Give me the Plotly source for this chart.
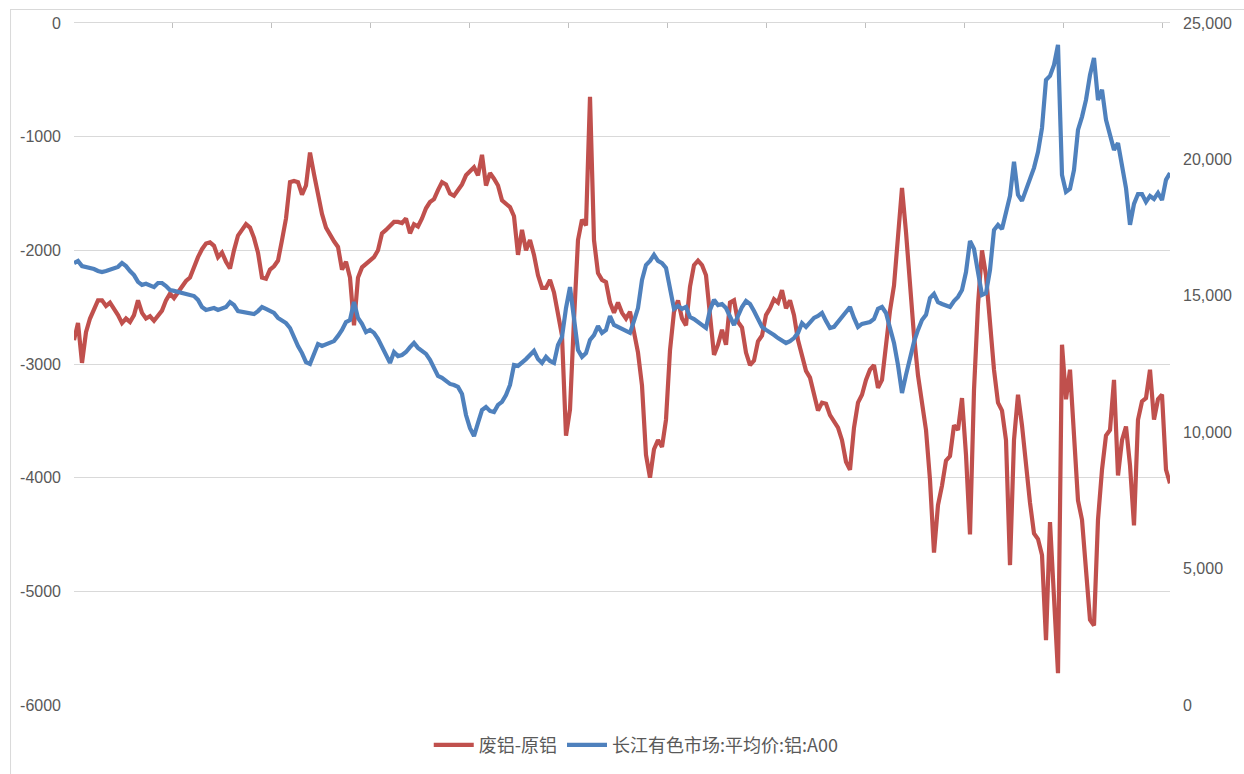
import plotly.graph_objects as go

scrap_minus_primary = [
    -2790, -2640, -2990, -2720, -2600, -2510, -2440, -2440, -2490, -2460,
    -2510, -2570, -2640, -2600, -2630, -2570, -2440, -2550, -2600, -2580,
    -2620, -2580, -2530, -2440, -2380, -2420, -2370, -2310, -2270, -2240,
    -2140, -2060, -1990, -1940, -1930, -1960, -2060, -2020, -2100, -2160,
    -2000, -1870, -1820, -1770, -1800, -1890, -2020, -2240, -2250, -2170,
    -2140, -2090, -1910, -1720, -1400, -1390, -1400, -1510, -1430, -1140,
    -1330, -1530, -1680, -1800, -1870, -1920, -1970, -2170, -2100, -2240,
    -2660, -2240, -2150, -2120, -2090, -2060, -2000, -1850, -1820, -1790,
    -1750, -1750, -1760, -1720, -1850, -1770, -1790, -1720, -1630, -1575,
    -1550, -1470, -1400, -1420, -1500, -1520, -1470, -1420, -1340, -1300,
    -1270, -1340, -1160, -1430, -1320, -1370, -1430, -1560, -1590, -1620,
    -1700, -2040, -1820, -2000, -1910, -2040, -2220, -2330, -2330, -2260,
    -2370, -2570, -2750, -3630, -3400, -2610, -1910, -1730, -1780, -650,
    -1910, -2200, -2260, -2280, -2460, -2550, -2460, -2550, -2600, -2540,
    -2730, -2900, -3190, -3800, -4000, -3750, -3670, -3730, -3490, -2880,
    -2540, -2440, -2600, -2660, -2320, -2130, -2090, -2130, -2220, -2610,
    -2920, -2830, -2700, -2830, -2460, -2440, -2630, -2680, -2900, -3010,
    -2970, -2800, -2750, -2570, -2510, -2430, -2460, -2350, -2510, -2440,
    -2570, -2790, -2940, -3060, -3120, -3250, -3410, -3340, -3350, -3450,
    -3500, -3560, -3670, -3860, -3930, -3560, -3340, -3270, -3140, -3050,
    -3010, -3210, -3140, -2830, -2530, -2310, -1910, -1450, -1840, -2310,
    -2750, -3100, -3320, -3580, -4020, -4660, -4240, -4070, -3850, -3810,
    -3540, -3580, -3300, -3800, -4500, -3230, -2480, -2000, -2220, -2660,
    -3050, -3340, -3410, -3670, -4770, -3670, -3270, -3540, -3930, -4220,
    -4490, -4540, -4680, -5430, -4390, -5080, -5720, -2830, -3310, -3050,
    -3580, -4200, -4370, -4770, -5250, -5300, -4370, -3930, -3630, -3580,
    -3140, -3980, -3670, -3550, -3890, -4420, -3490, -3330, -3300, -3050,
    -3490, -3310, -3270, -3930, -4050,
]

changjiang_a00 = [
    16200, 16280, 16090, 16060, 16020, 15980, 15910, 15870, 15910, 15950,
    16020, 16060, 16200, 16090, 15910, 15760, 15510, 15400, 15440, 15360,
    15320, 15470, 15470, 15360, 15210, 15180, 15140, 15100, 15070, 15030,
    14990, 14850, 14590, 14480, 14520, 14550, 14480, 14520, 14590, 14770,
    14660, 14440, 14410, 14370, 14330, 14330, 14440, 14590, 14520, 14440,
    14370, 14190, 14110, 14000, 13820, 13450, 13160, 12900, 12570, 12500,
    12830, 13230, 13160, 13230, 13310, 13340, 13530, 13750, 14040, 14110,
    14770, 14190, 13970, 13670, 13750, 13640, 13420, 13120, 12830, 12540,
    12940, 12790, 12830, 12940, 13120, 13270, 13090, 12980, 12870, 12650,
    12350, 12060, 11990, 11880, 11770, 11730, 11660, 11400, 10630, 10150,
    9860, 10340, 10810, 10920, 10780, 10740, 11000, 11110, 11360, 11730,
    12460, 12430, 12540, 12680, 12830, 12980, 12680, 12540, 12760, 12610,
    12540, 13200, 13490, 14550, 15320, 14040, 13010, 12760, 12900, 13380,
    13560, 13890, 13640, 13750, 14260, 13930, 13860, 13820, 13710, 13640,
    14080, 14550, 15580, 16130, 16280, 16500, 16280, 16200, 16020, 15320,
    14520, 14630, 14520, 14590, 14220, 14150, 14040, 13890, 13820, 14480,
    14850, 14660, 14700, 14550, 14220, 13930, 14260, 14590, 14810, 14700,
    14440, 14110, 13860, 13750, 13670, 13560, 13450, 13380, 13270, 13340,
    13450, 13640, 14000, 13860, 14040, 14190, 14260, 14370, 14080, 13820,
    13860, 14040, 14260, 14440, 14590, 14190, 13860, 13970, 14000, 14040,
    14150, 14520, 14590, 14370, 13820, 13270, 12460, 11440, 12100, 12790,
    13310, 13750, 14110, 14300, 14920, 15070, 14770, 14700, 14660, 14590,
    14810, 14960, 15210, 15870, 17010, 16720, 15870, 15030, 15100, 15950,
    17410, 17600, 17450, 18070, 18660, 19910, 18700, 18480, 18880, 19280,
    19690, 20270, 21150, 22910, 23060, 23460, 24200, 19430, 18810, 18920,
    19610, 21080, 21560, 22180, 23100, 23720, 22180, 22550, 21450, 20900,
    20350, 20600, 19870, 18950, 17600, 18370, 18730, 18730, 18440, 18660,
    18550, 18770, 18510, 19250, 19500,
]

series_names = ["废铝-原铝", "长江有色市场:平均价:铝:A00"]
left_ticks = [0, -1000, -2000, -3000, -4000, -5000, -6000]
left_tick_text = ["0", "-1000", "-2000", "-3000", "-4000", "-5000", "-6000"]
right_ticks = [0, 5000, 10000, 15000, 20000, 25000]
right_tick_text = ["0", "5,000", "10,000", "15,000", "20,000", "25,000"]

n_obs = len(scrap_minus_primary)
idx = list(range(n_obs))
cat_ticks = [i * 24.73 for i in range(12)]

RED = "#C0504D"
BLUE = "#4F81BD"
GRID = "#D9D9D9"
TXT = "#595959"

fig = go.Figure()
fig.add_trace(go.Scatter(
    x=idx, y=scrap_minus_primary, name=series_names[0], mode="lines",
    line=dict(color=RED, width=4.2), yaxis="y",
))
fig.add_trace(go.Scatter(
    x=list(range(len(changjiang_a00))), y=changjiang_a00, name=series_names[1],
    mode="lines", line=dict(color=BLUE, width=4.2), yaxis="y2",
))

fig.update_layout(
    width=1244, height=774,
    margin=dict(l=74, r=74, t=23, b=69, autoexpand=False),
    paper_bgcolor="white", plot_bgcolor="white",
    font=dict(family="Liberation Sans, Noto Sans CJK SC, sans-serif", size=16, color=TXT),
    xaxis=dict(
        range=[0, n_obs - 1], side="top", anchor="y",
        showline=True, linecolor=GRID, linewidth=1,
        ticks="inside", ticklen=5, tickcolor="#BFBFBF",
        tickvals=cat_ticks, showticklabels=False,
        showgrid=False, zeroline=False, fixedrange=True,
    ),
    yaxis=dict(
        range=[-6000, 0], tickvals=left_ticks, ticktext=left_tick_text,
        showgrid=True, gridcolor=GRID, gridwidth=1, zeroline=False,
        showline=False, ticks="", ticklabelstandoff=12,
        tickfont=dict(size=16, color=TXT),
    ),
    yaxis2=dict(
        range=[0, 25000], overlaying="y", side="right",
        tickvals=right_ticks, ticktext=right_tick_text,
        showgrid=False, zeroline=False, showline=False, ticks="",
        ticklabelstandoff=12, tickfont=dict(size=16, color=TXT),
    ),
    legend=dict(
        orientation="h", x=0.513, xanchor="center", y=-0.059, yanchor="middle",
        font=dict(family="Noto Sans CJK SC, sans-serif", size=18, color=TXT),
        bgcolor="rgba(0,0,0,0)", itemwidth=40, tracegroupgap=0,
    ),
    showlegend=True,
    shapes=[
        dict(type="line", xref="paper", yref="paper",
             x0=-0.0584, x1=1.07, y0=1.0198, y1=1.0198,
             line=dict(color=GRID, width=1)),
        dict(type="line", xref="paper", yref="paper",
             x0=-0.0579, x1=-0.0579, y0=1.0198, y1=-0.11,
             line=dict(color=GRID, width=1)),
    ],
)

fig.write_html("out.html")
